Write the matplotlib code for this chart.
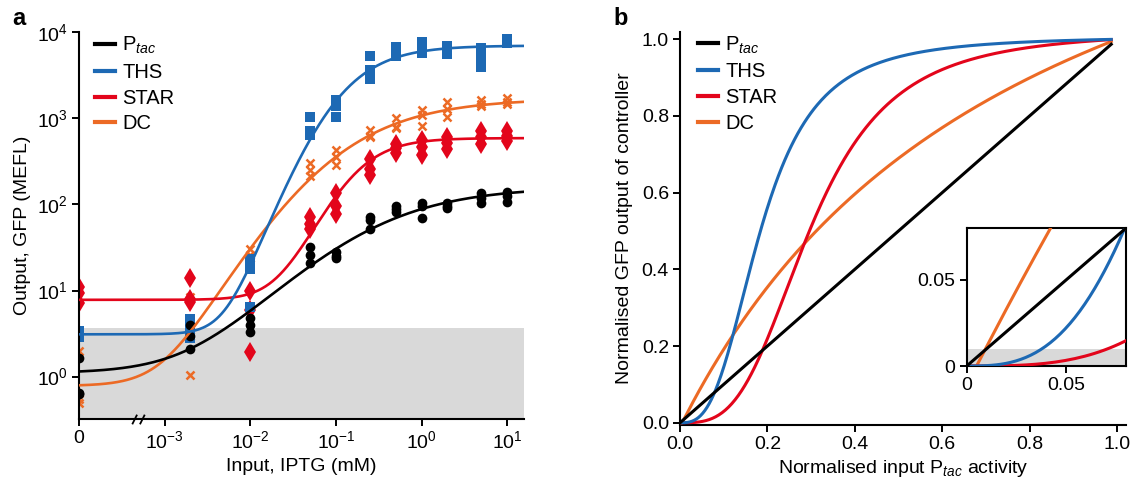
import numpy as np
import matplotlib
matplotlib.use("Agg")
import matplotlib.pyplot as plt
from matplotlib.path import Path
from matplotlib.ticker import NullLocator

plt.rcParams['font.family'] = 'Liberation Sans'
plt.rcParams['mathtext.fontset'] = 'custom'
plt.rcParams['mathtext.rm'] = 'Liberation Sans'
plt.rcParams['mathtext.it'] = 'Liberation Sans:italic'
plt.rcParams['mathtext.bf'] = 'Liberation Sans:bold'
plt.rcParams['font.size'] = 14

# --- kleuren ---
c_ptac = '#000000'
c_ths = '#1d69b4'
c_star = '#e3051b'
c_dc = '#ec6a25'

# --- panel a: metingen (IPTG in mM, GFP in MEFL, 3 replicaten) ---
iptg = [0, 0.002, 0.01, 0.05, 0.1, 0.25, 0.5, 1, 2, 5, 10]
zero_pos = 1e-4          # plek van "0" op de gebroken log-as
break_pos = 10 ** -3.314

ptac_pts = [[1.65, 0.65, 0.62], [4.0, 3.0, 2.1], [4.8, 4.0, 3.3], [32, 26, 21],
            [28, 25, 24], [72, 66, 52], [95, 88, 82], [104, 95, 70],
            [104, 97, 92], [135, 120, 105], [140, 125, 106]]
ths_pts = [[3.4, 3.1, 2.9], [4.7, 3.6, 2.8], [23, 18, 6.5], [1050, 720, 640],
           [1650, 1400, 1050], [5300, 3600, 2900], [6800, 6000, 5300],
           [7800, 6500, 5800], [7000, 6200, 5600], [6500, 5000, 4000],
           [8300, 7800, 7500]]
star_pts = [[11, 9.3, 7.1], [14, 8.0, 7.4], [10, 6.0, 1.95], [72, 60, 52],
            [135, 95, 78], [340, 260, 220], [500, 450, 400], [560, 470, 380],
            [600, 520, 440], [720, 600, 500], [720, 620, 540]]
dc_pts = [[2.0, 0.55, 0.5], [8.5, 3.0, 1.05], [30, 26, 24], [300, 250, 215],
          [430, 360, 290], [740, 620, 600], [1000, 800, 780], [1250, 1100, 810],
          [1550, 1300, 1030], [1650, 1450, 1380], [1720, 1550, 1450]]

# fit parameters (basis, max, K, n, s) van de gegeneraliseerde Hill-curve
ptac_fit = [1.1, 160, 0.224, 0.6, 1.75]
ths_fit = [3.1, 7000, 0.0825, 1.1, 2.5]
star_fit = [7.8, 590, 0.157, 1.45, 1.5]
dc_fit = [0.78, 1700, 0.054, 0.62, 3.0]

bg_level = 3.68          # grijze autofluorescentie-band (MEFL)

# --- panel b: genormaliseerde overdrachtscurves (K, n, drempel x0) ---
ths_norm = [0.185, 2.9, 0.0]
star_norm = [0.3, 3.2, 0.0]
dc_norm = [0.8, 1.0, 0.005]
x_end = 0.987
bg_norm = 0.01


def hill_gen(x, base, top, K, n, s):
    r = (np.asarray(x, dtype=float) / K) ** n
    return base + (top - base) * (r / (1 + r)) ** s


def hill_norm(x, K, n, x0):
    u = np.clip(np.asarray(x, dtype=float) - x0, 0, None)
    h = u ** n / (K ** n + u ** n)
    h1 = (1 - x0) ** n / (K ** n + (1 - x0) ** n)
    return h / h1


fig = plt.figure(figsize=(11.32, 4.79), dpi=100)

# ==================== panel a ====================
ax = fig.add_axes([0.0698, 0.1253, 0.3935, 0.8073])
ax.set_xscale('log')
ax.set_yscale('log')

xs = np.logspace(-4, np.log10(16), 500)
x_plot = np.where(np.array(iptg) == 0, zero_pos, iptg)

ax.axhspan(0.1, bg_level, color='#d9d9d9', lw=0, zorder=0)

series = [
    ('DC', dc_pts, dc_fit, c_dc, dict(marker='x', ms=6.2, mew=1.8)),
    ('STAR', star_pts, star_fit, c_star, dict(marker='d', ms=10, mew=0)),
    ('THS', ths_pts, ths_fit, c_ths, dict(marker='s', ms=7, mew=0)),
    (r'P$_{\mathit{tac}}$', ptac_pts, ptac_fit, c_ptac, dict(marker='o', ms=7, mew=0)),
]
handles = {}
for name, pts, fit, col, mk in series:
    xx = np.repeat(x_plot, 3)
    yy = np.array(pts).ravel()
    ax.plot(xx, yy, ls='none', color=col, zorder=2, **mk)
    line, = ax.plot(xs, hill_gen(xs, *fit), color=col, lw=1.9, zorder=3, label=name)
    handles[name] = line

ax.set_xlim(zero_pos, 15.9)
ax.set_ylim(0.322, 1e4)
ax.set_xticks([zero_pos, 1e-3, 1e-2, 1e-1, 1, 10])
ax.set_xticklabels(['0', '$10^{-3}$', '$10^{-2}$', '$10^{-1}$', '$10^{0}$', '$10^{1}$'])
ax.set_yticks([1, 10, 100, 1000, 10000])
ax.set_yticklabels(['$10^{0}$', '$10^{1}$', '$10^{2}$', '$10^{3}$', '$10^{4}$'])
ax.xaxis.set_minor_locator(NullLocator())
ax.yaxis.set_minor_locator(NullLocator())
ax.set_xlabel('Input, IPTG (mM)', labelpad=4)
ax.set_ylabel('Output, GFP (MEFL)', labelpad=4)

# asbreuk tussen 0 en 10^-3
brk = Path([(-1.3, -1), (-0.3, 1), (0.3, -1), (1.3, 1)],
           [Path.MOVETO, Path.LINETO, Path.MOVETO, Path.LINETO])
ax.plot([break_pos], [0], transform=ax.get_xaxis_transform(), marker=brk, ms=9,
        mew=1.3, color='black', clip_on=False, zorder=6)

order = [r'P$_{\mathit{tac}}$', 'THS', 'STAR', 'DC']
leg_kw = dict(loc='upper left', frameon=False, handlelength=1.0, handletextpad=0.35,
              labelspacing=0.33, fontsize=14.5, borderaxespad=0, borderpad=0)
leg = ax.legend([handles[k] for k in order], order,
                bbox_to_anchor=(0.036, 0.993), **leg_kw)
for l in leg.get_lines():
    l.set_linewidth(3)

# ==================== panel b ====================
bx = fig.add_axes([0.6007, 0.1134, 0.3937, 0.8206])
xn = np.linspace(0, x_end, 400)
curves_b = [('DC', hill_norm(xn, *dc_norm), c_dc),
            ('STAR', hill_norm(xn, *star_norm), c_star),
            ('THS', hill_norm(xn, *ths_norm), c_ths),
            (r'P$_{\mathit{tac}}$', xn, c_ptac)]
hb = {}
for name, yv, col in curves_b:
    ln, = bx.plot(xn, yv, color=col, lw=2.2, label=name, zorder=3)
    hb[name] = ln
bx.set_xlim(0, 1.02)
bx.set_ylim(-0.005, 1.02)
bx.set_xticks(np.arange(0, 1.01, 0.2))
bx.set_yticks(np.arange(0, 1.01, 0.2))
bx.set_xticklabels(['0.0', '0.2', '0.4', '0.6', '0.8', '1.0'])
bx.set_yticklabels(['0.0', '0.2', '0.4', '0.6', '0.8', '1.0'])
bx.set_xlabel(r'Normalised input P$_{\mathit{tac}}$ activity', labelpad=4)
bx.set_ylabel('Normalised GFP output of controller', labelpad=6)
leg2 = bx.legend([hb[k] for k in order], order,
                 bbox_to_anchor=(0.040, 0.993), **leg_kw)
for l in leg2.get_lines():
    l.set_linewidth(3)

# inzet
ix = fig.add_axes([0.854, 0.2359, 0.1405, 0.2875])
ix.axhspan(0, bg_norm, color='#d9d9d9', lw=0, zorder=0)
for name, yv, col in curves_b:
    ix.plot(xn, yv, color=col, lw=2.2, zorder=3)
ix.set_xlim(0, 0.08)
ix.set_ylim(0, 0.08)
ix.set_xticks([0, 0.05])
ix.set_xticklabels(['0', '0.05'])
ix.set_yticks([0, 0.05])
ix.set_yticklabels(['0', '0.05'])

for a in (ax, bx):
    a.spines['top'].set_visible(False)
    a.spines['right'].set_visible(False)
for a in (ax, bx, ix):
    for sp in a.spines.values():
        sp.set_linewidth(1.5)
    a.tick_params(direction='out', length=5, width=1.4, labelsize=14, pad=3)

fig.text(12 / 1132, 1 - 25 / 479, 'a', fontsize=17, fontweight='bold')
fig.text(613 / 1132, 1 - 25 / 479, 'b', fontsize=17, fontweight='bold')

fig.savefig('out.png', dpi=100)
